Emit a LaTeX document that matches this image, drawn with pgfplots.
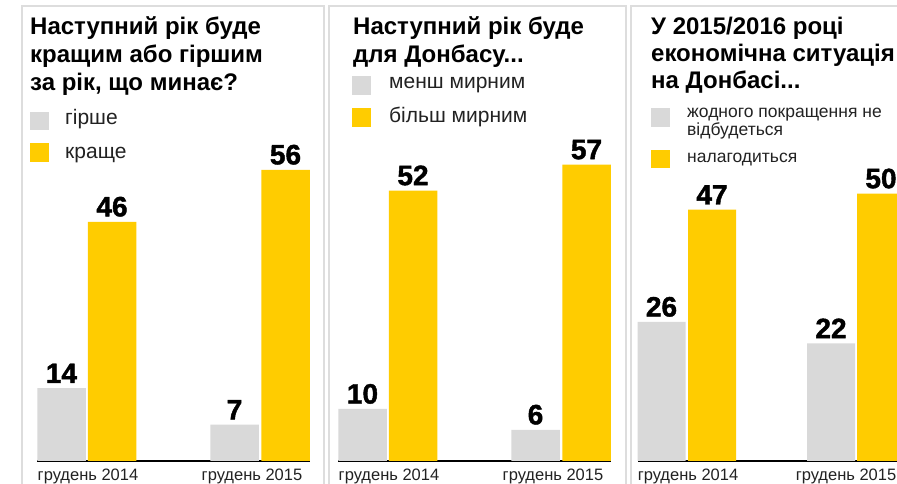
\documentclass[border=0pt]{standalone}
\usepackage{fontspec}
\setmainfont{Liberation Sans}
\newfontfamily\heavy[FakeBold=1.5]{Liberation Sans Bold}
\usepackage{pgfplots}
\pgfplotsset{compat=1.18}
\definecolor{bargray}{HTML}{D9D9D9}
\definecolor{baryel}{HTML}{FFCC00}
\definecolor{bordergray}{HTML}{DDDDDD}
\definecolor{txt}{HTML}{222222}
\pgfplotsset{panel/.style={
  scale only axis, width=273pt, height=416pt,
  xmin=0, xmax=273, ymin=0, ymax=80,
  anchor=south west,
  axis x line=bottom, axis y line=none,
  x axis line style={-, line width=2.2pt, black},
  ytick=\empty, xtick={51,215},
  major tick length=0pt,
  xticklabels={грудень 2014, грудень 2015},
  xticklabel style={font=\fontsize{16.5}{16.5}\selectfont, text=txt, anchor=north, inner sep=0pt, yshift=-8pt},
  clip=false,
  /pgf/number format/assume math mode=true,
  nodes near coords,
  every node near coord/.append style={font=\heavy\fontsize{28}{28}\selectfont, text=black, anchor=south, inner sep=0pt, yshift=5pt},
}}
\tikzset{ttl/.style={anchor=base west, inner sep=0pt, font=\bfseries\fontsize{24}{24}\selectfont, text=black},
  leg/.style={anchor=base west, inner sep=0pt, font=\fontsize{21}{21}\selectfont, text=txt},
  legs/.style={anchor=base west, inner sep=0pt, font=\fontsize{17.5}{17.5}\selectfont, text=txt}}
\begin{document}
\begin{tikzpicture}[x=1pt,y=1pt]
\useasboundingbox (0,0) rectangle (897,484);
\fill[white] (0,0) rectangle (897,484);
\begin{scope}
\clip (0,0) rectangle (897,484);
% borders
\draw[bordergray, line width=2.5pt] (22,-10) -- (22,478) -- (324,478) -- (324,-10);
\draw[bordergray, line width=2.5pt] (329,-10) -- (329,478) -- (626,478) -- (626,-10);
\draw[bordergray, line width=2.5pt] (631,-10) -- (631,478) -- (920,478);
% panel 1
\node[ttl] at (30,449) {Наступний рік буде};
\node[ttl] at (30,421) {кращим або гіршим};
\node[ttl] at (30,393) {за рік, що минає?};
\fill[bargray] (30,354) rectangle (49,372);
\fill[baryel] (30,322) rectangle (49,341);
\node[leg] at (65,359) {гірше};
\node[leg] at (65,325) {краще};
\begin{axis}[panel, at={(37pt,23pt)}]
\addplot[ybar, bar width=48.5, bar shift=0pt, fill=bargray, draw=none] coordinates {(24.5,14) (197.5,7)};
\addplot[ybar, bar width=48.5, bar shift=0pt, fill=baryel, draw=none] coordinates {(75,46) (248.5,56)};
\end{axis}
% panel 2
\node[ttl] at (353,449) {Наступний рік буде};
\node[ttl] at (353,421) {для Донбасу...};
\fill[bargray] (352,389) rectangle (371,408);
\fill[baryel] (352,357) rectangle (371,376);
\node[leg] at (389,395) {менш мирним};
\node[leg] at (389,361) {більш мирним};
\begin{axis}[panel, at={(338pt,23pt)}]
\addplot[ybar, bar width=48.5, bar shift=0pt, fill=bargray, draw=none] coordinates {(24.5,10) (197.5,6)};
\addplot[ybar, bar width=48.5, bar shift=0pt, fill=baryel, draw=none] coordinates {(75,52) (248.5,57)};
\end{axis}
% panel 3
\node[ttl] at (651,449) {У 2015/2016 році};
\node[ttl] at (651,422) {економічна ситуація};
\node[ttl] at (651,395) {на Донбасі...};
\fill[bargray] (651,357) rectangle (670,376);
\fill[baryel] (651,316) rectangle (670,334);
\node[legs] at (687,366) {жодного покращення не};
\node[legs] at (687,348) {відбудеться};
\node[legs] at (687,321) {налагодиться};
\begin{axis}[panel, at={(638pt,23pt)}, ymax=77.8, xtick={50,208}]
\addplot[ybar, bar width=48, bar shift=0pt, fill=bargray, draw=none] coordinates {(23.5,26) (193,22)};
\addplot[ybar, bar width=48, bar shift=0pt, fill=baryel, draw=none] coordinates {(74,47) (243,50)};
\end{axis}
\end{scope}
\end{tikzpicture}
\end{document}
